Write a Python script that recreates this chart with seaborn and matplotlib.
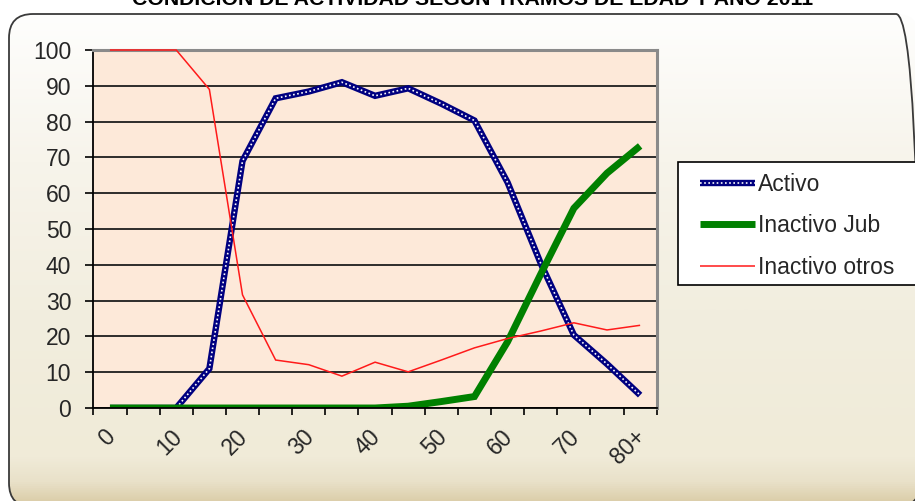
import numpy as np
import pandas as pd
import matplotlib
matplotlib.use("Agg")
import matplotlib.pyplot as plt
import seaborn as sns
from matplotlib.patches import FancyBboxPatch, Rectangle
from matplotlib.colors import LinearSegmentedColormap
from matplotlib.legend_handler import HandlerTuple
import matplotlib.transforms as mtransforms

# ---------------- data ----------------
categorias = ["0", "5", "10", "15", "20", "25", "30", "35", "40", "45",
              "50", "55", "60", "65", "70", "75", "80+"]
tick_labels = ["0", "10", "20", "30", "40", "50", "60", "70", "80+"]
activo = [0, 0, 0, 11, 69, 86.5, 88.4, 91, 87.2, 89.3, 85, 80.3, 63, 40.4, 20.4, 12.3, 3.6]
inactivo_jub = [0, 0, 0, 0, 0, 0, 0, 0, 0, 0.5, 1.8, 3.2, 18.5, 37.4, 55.8, 65.6, 73.2]
inactivo_otros = [100, 100, 100, 89, 31.6, 13.4, 12.1, 8.9, 12.8, 10.1, 13.4, 16.8, 19.4, 21.5, 23.8, 21.8, 23.1]
titulo = "CONDICIÓN DE ACTIVIDAD SEGÚN TRAMOS DE EDAD Y AÑO 2011"

df = pd.DataFrame({"idx": np.arange(len(categorias)), "cat": categorias,
                   "Activo": activo, "Inactivo Jub": inactivo_jub,
                   "Inactivo otros": inactivo_otros})

sns.set_style("white")
plt.rcParams["font.family"] = ["Liberation Sans", "DejaVu Sans"]

W, H = 915, 501
fig = plt.figure(figsize=(W / 100, H / 100), dpi=100)
fig.patch.set_facecolor("white")

# ---------------- background rounded box with gradient ----------------
bg = fig.add_axes([0, 0, 1, 1], zorder=-10)
bg.set_xlim(0, W)
bg.set_ylim(0, H)
bg.axis("off")
x0, x1 = 9, 920
ytop, ybot = 14, 507
box = FancyBboxPatch((x0, H - ybot), x1 - x0, ybot - ytop,
                     boxstyle="round,pad=0,rounding_size=24",
                     facecolor="none", edgecolor="#3a3a3a", lw=1.3, zorder=3)
bg.add_patch(box)
cmap = LinearSegmentedColormap.from_list(
    "g", [(0.0, "#FEFEFD"), (0.3, "#F7F4EB"), (0.6, "#F2EEDF"),
          (0.9, "#F0EBD8"), (0.95, "#E9E1C9"), (1.0, "#D8C9A2")])
grad = np.linspace(0, 1, 512).reshape(-1, 1)
im = bg.imshow(grad, cmap=cmap, aspect="auto", origin="upper",
               extent=(x0, x1, H - ybot, H - ytop), zorder=1)
im.set_clip_path(box)

fig.text(473 / W, 1 - 5 / H, titulo, ha="center", va="baseline",
         fontsize=15.3, fontweight="bold", color="black")

# ---------------- main axes ----------------
L, R, T, B = 93.4, 656.7, 50, 408
ax = fig.add_axes([L / W, 1 - B / H, (R - L) / W, (B - T) / H])
ax.set_facecolor("#FDE9D9")

sns.lineplot(data=df, x="idx", y="Activo", ax=ax, color="#000080", lw=4.6,
             label="Activo", zorder=2)
blue = ax.lines[-1]
white, = ax.plot(df["idx"], df["Activo"], color="white", lw=1.2,
                 linestyle=(0, (1, 1.5)), zorder=2.05)
sns.lineplot(data=df, x="idx", y="Inactivo Jub", ax=ax, color="#008000", lw=5.0,
             label="Inactivo Jub", zorder=2.1)
green = ax.lines[-1]
sns.lineplot(data=df, x="idx", y="Inactivo otros", ax=ax, color="#FF1A1A", lw=1.1,
             label="Inactivo otros", zorder=3.2)
red = ax.lines[-1]
red.set_clip_on(False)
for ln in (blue, green, red):
    ln.set_solid_joinstyle("miter")
    ln.set_solid_capstyle("butt")
if ax.get_legend():
    ax.get_legend().remove()

ax.set_xlim(-0.5, len(categorias) - 0.5)
ax.set_ylim(0, 100)
ax.set_xlabel("")
ax.set_ylabel("")

# y axis
ax.set_yticks(np.arange(0, 101, 10))
ax.tick_params(axis="y", which="major", direction="out", length=6, width=1.2,
               color="black", pad=10, labelsize=16.5, left=True)
ax.yaxis.grid(True, color="#1e1e1e", lw=1.3)
ax.xaxis.grid(False)
ax.set_axisbelow(True)

# x axis: ticks at category boundaries, labels every other category
ax.set_xticks(np.arange(-0.5, len(categorias), 1))
ax.set_xticklabels([])
ax.set_xticks(np.arange(0, len(categorias), 2), minor=True)
ax.set_xticklabels(tick_labels, minor=True)
ax.tick_params(axis="x", which="major", direction="out", length=5, width=1.2,
               color="black", bottom=True)
ax.tick_params(axis="x", which="minor", length=0, pad=18, labelsize=16.5)
offset = mtransforms.ScaledTranslation(2 / 100, 0, fig.dpi_scale_trans)
for lab in ax.get_xticklabels(minor=True):
    lab.set_rotation(45)
    lab.set_rotation_mode("anchor")
    lab.set_ha("right")
    lab.set_va("center")
    lab.set_transform(lab.get_transform() + offset)

for s in ("left", "bottom"):
    ax.spines[s].set_color("black")
    ax.spines[s].set_linewidth(1.3)
for s in ("top", "right"):
    ax.spines[s].set_color("#8a8a8a")
    ax.spines[s].set_linewidth(2.2)
    ax.spines[s].set_visible(True)

# ---------------- legend ----------------
fig.patches.append(Rectangle((678 / W, 1 - 285 / H), (925 - 678) / W, 123 / H,
                             transform=fig.transFigure, facecolor="white",
                             edgecolor="black", lw=1.2, zorder=5))
leg = fig.legend([(blue, white), green, red],
                 ["Activo", "Inactivo Jub", "Inactivo otros"],
                 handler_map={tuple: HandlerTuple(ndivide=1, pad=0)},
                 loc="upper left", bbox_to_anchor=(700 / W, 1 - 173 / H),
                 frameon=False, fontsize=16.5, handlelength=2.4,
                 handletextpad=0.12, borderpad=0, borderaxespad=0,
                 labelspacing=0.8)
leg.set_zorder(6)

fig.savefig("out.png", dpi=100)
